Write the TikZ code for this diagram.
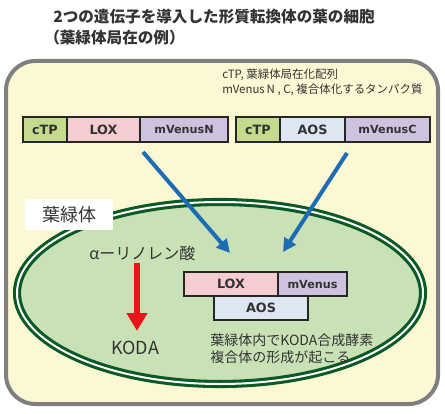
\documentclass[tikz,border=0pt]{standalone}
\usepackage{fontspec}
\setmainfont{Noto Sans CJK JP}
\newfontfamily\labfont{DejaVu Sans}
\usetikzlibrary{arrows.meta}
\definecolor{frameg}{HTML}{7F7F7F}
\definecolor{cellfill}{HTML}{FCF8D4}
\definecolor{chlfill}{HTML}{C8E2B6}
\definecolor{dgreen}{HTML}{0B5A26}
\definecolor{ctpc}{HTML}{C4DA8C}
\definecolor{loxc}{HTML}{F5CDD0}
\definecolor{venc}{HTML}{CEC2DE}
\definecolor{aosc}{HTML}{DDE7F2}
\definecolor{arrblue}{HTML}{1E6CB6}
\definecolor{arrred}{HTML}{E8141B}
\definecolor{txt}{HTML}{333333}
\tikzset{
  gene/.style={draw=black!85, line width=1.3pt, inner sep=0pt, text=txt,
    minimum height=25*0.75pt, font=\labfont\bfseries\fontsize{9.6}{10}\selectfont},
  vgene/.style={gene, font=\labfont\bfseries\fontsize{8.4}{10}\selectfont},
  bluearr/.style={draw=arrblue, line width=3pt, -{Triangle[length=10pt,width=10pt]}},
  plain/.style={inner sep=0pt, text=txt, anchor=west},
}
\begin{document}
\begin{tikzpicture}[x=0.75pt,y=-0.75pt]
\useasboundingbox (0,0) rectangle (445,413);
% title
\node[plain, font=\bfseries\fontsize{11.7}{13}\selectfont] (t1) at (53,17) {2つの遺伝子を導入した形質転換体の葉の細胞};
\node[plain, font=\bfseries\fontsize{11.7}{13}\selectfont] (t2) at (44,38) {（葉緑体局在の例）};
% cell
\draw[frameg, line width=3pt, fill=cellfill, rounded corners=22pt] (6,61) rectangle (438,404);
% annotation
\node[plain, font=\fontsize{8.6}{10}\selectfont] (a1) at (222,75) {cTP, 葉緑体局在化配列};
\node[plain, font=\fontsize{8.6}{10}\selectfont] (a2) at (222,90) {mVenus\,N , C, 複合体化するタンパク質};
% genes
\node[gene, fill=ctpc, minimum width=44*0.75pt] (ctp1) at (45,129.5) {cTP};
\node[gene, fill=loxc, minimum width=73*0.75pt] (lox1) at (103.5,129.5) {LOX};
\node[vgene, fill=venc, minimum width=88*0.75pt] (mvn) at (184,129.5) {mVenusN};
\node[gene, fill=ctpc, minimum width=44*0.75pt] (ctp2) at (258,129.5) {cTP};
\node[gene, fill=aosc, minimum width=65*0.75pt] (aos1) at (312.5,129.5) {AOS};
\node[vgene, fill=venc, minimum width=85*0.75pt] (mvc) at (387.5,129.5) {mVenusC};
% chloroplast
\draw[dgreen, line width=2.3pt, double=white, double distance=1.5pt, fill=chlfill] (220,293) ellipse [x radius=203, y radius=91];
\node[fill=white, minimum width=88*0.75pt, minimum height=31*0.75pt, inner sep=0pt, text=txt, font=\fontsize{13.5}{15}\selectfont] (chl) at (69,214.5) {葉緑体};
% pathway
\node[plain, font=\fontsize{12}{14}\selectfont] (ala) at (89,253) {αーリノレン酸};
\node[plain, font=\fontsize{13.5}{15}\selectfont] (koda) at (111,348) {KODA};
\coordinate (r1) at (137,263);
\coordinate (r2) at (137,331);
\draw[arrred, line width=4pt, -{Triangle[length=13.5pt,width=15pt]}] (r1) -- (r2);
% complex
\node[gene, fill=loxc, minimum width=94*0.75pt, minimum height=24*0.75pt] (lox2) at (231,284) {LOX};
\node[vgene, fill=venc, minimum width=69*0.75pt, minimum height=24*0.75pt] (mv) at (312.5,284) {mVenus};
\node[gene, fill=aosc, minimum width=94*0.75pt, minimum height=24*0.75pt] (aos2) at (261,308) {AOS};
\node[plain, font=\fontsize{10.5}{12}\selectfont] (b1) at (210,340) {葉緑体内でKODA合成酵素};
\node[plain, font=\fontsize{10.5}{12}\selectfont] (b2) at (210,357) {複合体の形成が起こる};
% blue arrows
\coordinate (s1) at (143,152);
\coordinate (e1) at (230,253);
\coordinate (s2) at (347,153);
\coordinate (e2) at (283,252);
\draw[bluearr] (s1) -- (e1);
\draw[bluearr] (s2) -- (e2);
\end{tikzpicture}
\end{document}
